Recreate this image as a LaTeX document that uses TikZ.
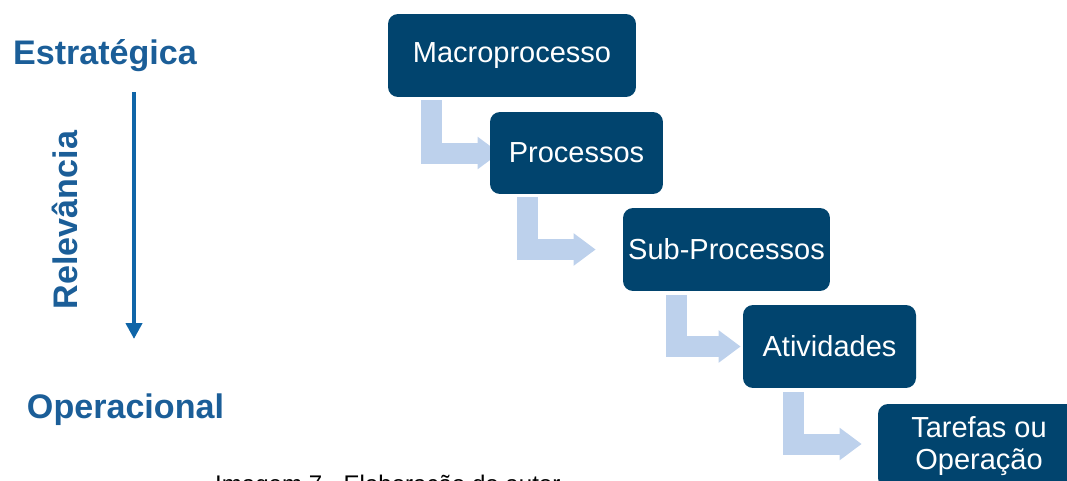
\documentclass[tikz,border=0pt]{standalone}
\usepackage{fontspec}
\setmainfont{Liberation Sans}
\usetikzlibrary{arrows.meta,backgrounds}
\definecolor{azulescuro}{HTML}{01446E}
\definecolor{azulclaro}{HTML}{BDD1EC}
\definecolor{azultexto}{HTML}{1B5E98}
\definecolor{azulseta}{HTML}{0F65A8}

\begin{document}
\begin{tikzpicture}[x=0.02cm, y=-0.02cm,
    nivel/.style={fill=azulescuro, text=white, rounded corners=0.2cm, align=center,
        inner sep=0pt, font=\fontsize{16.5}{18.2}\selectfont},
    seta/.style={draw=azulclaro, line width=0.42cm, line join=miter,
        -{Triangle[length=0.44cm, width=0.62cm]}},
    rotulo/.style={text=azultexto, font=\bfseries\fontsize{19.4}{23}\selectfont}]

    % 1. Área visível da figura
    \clip (0,0) rectangle (1067,480);

    % 2. Caixas dos níveis (do macro ao operacional)
    \node[nivel, minimum width=4.96cm, minimum height=1.66cm] (macro) at (512,55.5) {Macroprocesso};
    \node[nivel, minimum width=3.46cm, minimum height=1.64cm] (proc) at (576.5,153) {Processos};
    \node[nivel, minimum width=4.14cm, minimum height=1.66cm] (sub) at (726.5,249.5) {Sub-Processos};
    \node[nivel, minimum width=3.46cm, minimum height=1.66cm] (ativ) at (829.5,346.5) {Atividades};
    \node[nivel, minimum width=4.04cm, minimum height=1.68cm] (tarefa) at (979,446) {Tarefas ou\\Operação};

    % 3. Setas em L, por baixo das caixas
    \begin{scope}[on background layer]
        \draw[seta] ([xshift=0.87cm, yshift=-0.06cm]macro.south west) |- ([xshift=0.2cm]proc.west);
        \draw[seta] ([xshift=0.75cm, yshift=-0.06cm]proc.south west) |- ([xshift=-0.54cm]sub.west);
        \draw[seta] ([xshift=1.08cm, yshift=-0.08cm]sub.south west) |- ([xshift=-0.04cm]ativ.west);
        \draw[seta] ([xshift=1.01cm, yshift=-0.08cm]ativ.south west) |- ([xshift=-0.32cm, yshift=0.04cm]tarefa.west);
    \end{scope}

    % 4. Escala de relevância à esquerda
    \node[rotulo, anchor=base] (estr) at (105,64) {Estratégica};
    \node[rotulo, anchor=base] (oper) at (125.5,418) {Operacional};
    \node[rotulo, anchor=base, rotate=90] (relev) at (77,220) {Relevância};
    \coordinate (rtopo) at (134,92);
    \coordinate (rbase) at (134,339);
    \draw[azulseta, line width=0.08cm, -{Triangle[length=0.32cm, width=0.32cm]}] (rtopo) -- (rbase);

    % 5. Legenda (cortada na borda inferior, como no original)
    \node[anchor=base west, font=\fontsize{13.7}{16}\selectfont] (legenda) at (209,492) {Imagem 7 - Elaboração do autor};

\end{tikzpicture}
\end{document}
